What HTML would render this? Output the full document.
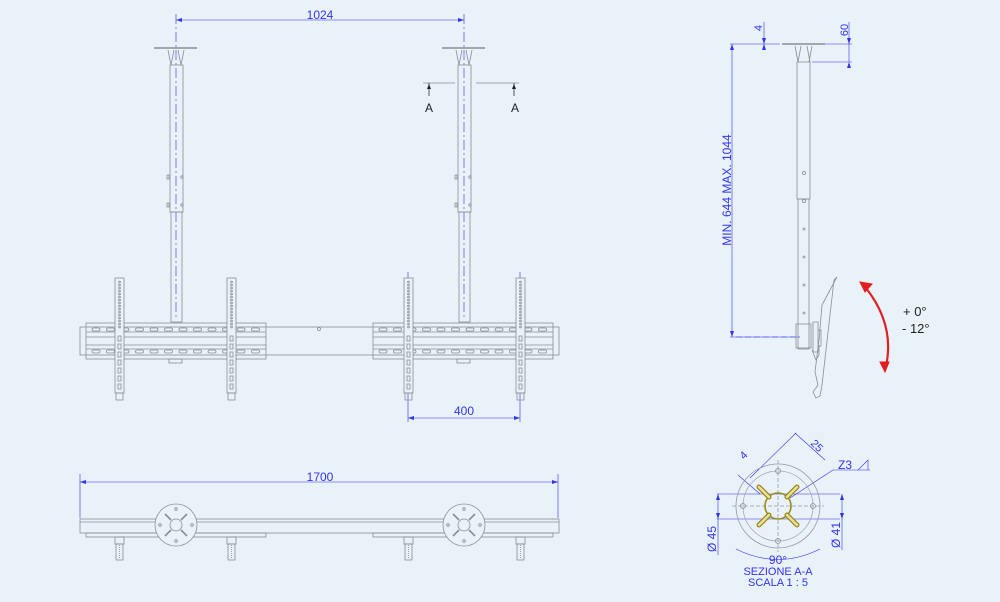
<!DOCTYPE html>
<html><head><meta charset="utf-8"><style>
html,body{margin:0;padding:0;background:#e9f1f9;}
svg{display:block;}
text{font-family:"Liberation Sans",sans-serif;}
</style></head><body>
<svg id="s" width="1000" height="602" viewBox="0 0 1000 602" xmlns="http://www.w3.org/2000/svg">
<rect width="1000" height="602" fill="#e9f1f9"/>
<g id="g" fill="none" stroke="#8a8e94" stroke-width="0.8">
<!-- 1024 dim -->
<g stroke="#3333ee" stroke-width="0.6">
<line x1="176" y1="14" x2="176" y2="320" stroke-dasharray="10,3,2,3"/>
<line x1="464" y1="14" x2="464" y2="320" stroke-dasharray="10,3,2,3"/>
<line x1="176" y1="20" x2="464" y2="20"/>
<line x1="791" y1="44" x2="791" y2="200" stroke-dasharray="10,3,2,3" stroke-width="0"/>
</g>
<path d="M176 20 l6 -2 v4z M464 20 l-6 -2 v4z" fill="#3333ee" stroke="none"/>
<text x="320" y="19" font-size="12" fill="#3333ee" stroke="none" text-anchor="middle">1024</text>

<!-- section A-A marker -->
<line x1="423" y1="83" x2="455" y2="83"/><line x1="476" y1="83" x2="519" y2="83"/>
<line x1="429" y1="83" x2="429" y2="96" stroke="#333"/><line x1="514" y1="83" x2="514" y2="96" stroke="#333"/>
<path d="M429 84 l-2 5 h4z M514 84 l-2 5 h4z" fill="#222" stroke="none"/>
<text x="429" y="112" font-size="12" fill="#222" stroke="none" text-anchor="middle">A</text>
<text x="515" y="112" font-size="12" fill="#222" stroke="none" text-anchor="middle">A</text>

<!-- side view dims -->
<g stroke="#3333ee" stroke-width="0.6">
<line x1="730" y1="44" x2="780" y2="44"/><line x1="764" y1="22" x2="764" y2="50"/>
<line x1="732" y1="44" x2="732" y2="337"/><line x1="730" y1="337" x2="800" y2="337"/>
<line x1="825" y1="44" x2="852" y2="44"/><line x1="812" y1="62" x2="852" y2="62"/>
<line x1="849" y1="22" x2="849" y2="62"/>
<line x1="736" y1="337" x2="800" y2="337" stroke-dasharray="6,3"/>
</g>
<path d="M732 44 l-2 6 h4z M732 337 l-2 -6 h4z M764 44 l-2 -6 h4z M764 44 l-2 6 h4z M849 44 l-2 -6 h4z M849 62 l-2 6 h4z" fill="#3333ee" stroke="none"/>
<text x="0" y="0" font-size="12" fill="#3333ee" stroke="none" text-anchor="middle" transform="translate(731,190) rotate(-90)">MIN. 644 MAX. 1044</text>
<text x="0" y="0" font-size="11" fill="#3333ee" stroke="none" text-anchor="middle" transform="translate(762,28) rotate(-90)">4</text>
<text x="0" y="0" font-size="11" fill="#3333ee" stroke="none" text-anchor="middle" transform="translate(848,30) rotate(-90)">60</text>

<!-- side view pole -->
<line x1="782" y1="44" x2="825" y2="44" stroke-width="1.4"/>
<path d="M795 46 l3 16 M801 46 l-3 16 M807 46 l3 16 M812 46 l-3 16"/>
<rect x="797" y="62" width="13" height="137"/>
<rect x="798" y="199" width="11" height="150"/>
<circle cx="804" cy="173" r="1.6"/><circle cx="804" cy="201" r="1.6"/>
<circle cx="804" cy="229" r="1"/><circle cx="804" cy="257" r="1"/><circle cx="804" cy="285" r="1"/><circle cx="804" cy="313" r="1"/>
<rect x="796" y="324" width="15" height="24"/>
<path d="M813 322 h5 v30 h-5z M818 330 h3 v16 h-3z"/>
<path d="M837 277 L822 305 L819 340 L815 372 L818 385 L813 392 L816 398 L820 396 L822 385 L834 280z"/>
<path d="M812 350 l4 10 l3 -5 v-10"/>
<!-- red arrow -->
<path d="M866 288 Q895 325 886 366" stroke="#e02020" stroke-width="2.2"/>
<path d="M860 282 l12 2 l-7 8z M885 372 l-5 -10 l9 0z" fill="#e02020" stroke="#e02020" stroke-width="1"/>
<text x="903" y="316" font-size="13" fill="#222" stroke="none">+ 0°</text>
<text x="902" y="333" font-size="13" fill="#222" stroke="none">- 12°</text>

<!-- 400 dim -->
<g stroke="#3333ee" stroke-width="0.6">
<line x1="408" y1="272" x2="408" y2="422"/><line x1="520" y1="272" x2="520" y2="422"/>
<line x1="408" y1="418" x2="520" y2="418"/>
<line x1="80" y1="474" x2="80" y2="518"/><line x1="558" y1="474" x2="558" y2="518"/>
<line x1="80" y1="482" x2="558" y2="482"/>
</g>
<path d="M408 418 l6 -2 v4z M520 418 l-6 -2 v4z M80 482 l6 -2 v4z M558 482 l-6 -2 v4z" fill="#3333ee" stroke="none"/>
<text x="464" y="415" font-size="12" fill="#3333ee" stroke="none" text-anchor="middle">400</text>
<text x="320" y="481" font-size="12" fill="#3333ee" stroke="none" text-anchor="middle">1700</text>

<!-- section A-A -->
<g stroke="#3333ee" stroke-width="0.6">
<line x1="717" y1="494" x2="840" y2="494"/><line x1="717" y1="519" x2="840" y2="519"/>
<line x1="718" y1="494" x2="718" y2="555"/><line x1="842" y1="494" x2="842" y2="550"/>
<line x1="738" y1="475" x2="760" y2="494"/><line x1="795" y1="433" x2="825" y2="460"/>
<line x1="796" y1="433" x2="750" y2="478"/>
<line x1="833" y1="470" x2="790" y2="498"/><line x1="833" y1="470" x2="870" y2="470"/>
<path d="M736 549 Q778 570 820 549"/>
</g>
<path d="M718 494 l-2 6 h4z M718 519 l-2 -6 h4z M842 494 l-2 6 h4z M842 519 l-2 -6 h4z" fill="#3333ee" stroke="none"/>
<circle cx="778" cy="506" r="42" stroke="#999"/>
<circle cx="778" cy="506" r="35" stroke="#aaa"/>
<line x1="778" y1="460" x2="778" y2="552" stroke="#99a" stroke-dasharray="4,2"/>
<line x1="732" y1="506" x2="824" y2="506" stroke="#99a" stroke-dasharray="4,2"/>
<circle cx="778" cy="471" r="2.5"/><circle cx="778" cy="541" r="2.5"/><circle cx="743" cy="506" r="2.5"/><circle cx="813" cy="506" r="2.5"/>
<g stroke="#9a8a1a" stroke-width="1.6">
<circle cx="778" cy="506" r="13"/>
<path d="M769 497 l-10 -10 M787 497 l10 -10 M769 515 l-10 10 M787 515 l10 10" stroke-width="5" stroke-linecap="round"/>
</g>
<g stroke="#e9e0a0" stroke-width="2.4"><path d="M769 497 l-10 -10 M787 497 l10 -10 M769 515 l-10 10 M787 515 l10 10" stroke-linecap="round"/></g>
<text x="0" y="0" font-size="12" fill="#3333ee" stroke="none" transform="translate(716,552) rotate(-90)">Ø 45</text>
<text x="0" y="0" font-size="12" fill="#3333ee" stroke="none" transform="translate(840,548) rotate(-90)">Ø 41</text>
<text x="0" y="0" font-size="11" fill="#3333ee" stroke="none" transform="translate(744,460) rotate(-45)">4</text>
<text x="0" y="0" font-size="11" fill="#3333ee" stroke="none" transform="translate(810,444) rotate(45)">25</text>
<text x="838" y="469" font-size="12" fill="#3333ee" stroke="none">Z3</text>
<path d="M858 470 l10 -10 v10" stroke="#3333ee" stroke-width="0.6"/>
<text x="778" y="564" font-size="12" fill="#3333ee" stroke="none" text-anchor="middle">90°</text>
<text x="778" y="575" font-size="11" fill="#3333ee" stroke="none" text-anchor="middle">SEZIONE A-A</text>
<text x="778" y="586" font-size="11" fill="#3333ee" stroke="none" text-anchor="middle">SCALA 1 : 5</text>
</g>
</svg>
<script>
(function(){
var g=document.getElementById('g'),NS='http://www.w3.org/2000/svg';
function el(t,a){var e=document.createElementNS(NS,t);for(var k in a)e.setAttribute(k,a[k]);g.appendChild(e);return e;}
// poles front view
[176,464].forEach(function(c){
 el('line',{x1:c-22,y1:48,x2:c+21,y2:48,'stroke-width':1.4});
 el('path',{d:'M'+(c-8)+' 50 l3 15 M'+(c-2)+' 50 l-3 15 M'+(c+2)+' 50 l3 15 M'+(c+8)+' 50 l-3 15'});
 el('rect',{x:c-6,y:65,width:13,height:147});
 el('rect',{x:c-5,y:212,width:11,height:110});
 el('circle',{cx:c+6,cy:177,r:1.2});el('circle',{cx:c+6,cy:205,r:1.2});
 el('rect',{x:c-9,y:175,width:2,height:4});el('rect',{x:c-9,y:203,width:2,height:4});
 el('rect',{x:c-7,y:359,width:13,height:4});
});
// rails
el('rect',{x:80,y:327,width:479,height:28});
[86,373].forEach(function(x){
 el('rect',{x:x,y:323,width:180,height:36});
 el('line',{x1:x,y1:332,x2:x+180,y2:332});el('line',{x1:x,y1:337,x2:x+180,y2:337});
 el('line',{x1:x,y1:345,x2:x+180,y2:345});el('line',{x1:x,y1:349,x2:x+180,y2:349});
 for(var i=0;i<12;i++){var hx=x+6+i*14.5;el('rect',{x:hx,y:328,width:8,height:3,rx:1.5});el('rect',{x:hx,y:350,width:8,height:3,rx:1.5});}
});
el('circle',{cx:319,cy:329,r:1.5});
// straps
[115,227,404,516].forEach(function(x){
 el('rect',{x:x,y:278,width:9,height:115,fill:'#e9f1f9'});
 for(var y=282;y<330;y+=3)el('circle',{cx:x+4.5,cy:y,r:0.9});
 for(var y=336;y<392;y+=8)el('rect',{x:x+3,y:y,width:3,height:5});
 el('rect',{x:x+1,y:393,width:7,height:7});
});
// bottom view
el('rect',{x:80,y:519,width:479,height:14});
el('line',{x1:80,y1:522,x2:559,y2:522});
el('rect',{x:86,y:533,width:180,height:4});el('rect',{x:373,y:533,width:180,height:4});
[176,464].forEach(function(c){
 el('circle',{cx:c,cy:525,r:21,fill:'#e9f1f9'});
 el('circle',{cx:c,cy:525,r:6});
 el('path',{d:'M'+(c-5)+' 520 l-6 -6 M'+(c+5)+' 520 l6 -6 M'+(c-5)+' 530 l-6 6 M'+(c+5)+' 530 l6 6','stroke-width':1.6});
 el('circle',{cx:c,cy:509,r:1.3});el('circle',{cx:c,cy:541,r:1.3});el('circle',{cx:c-16,cy:525,r:1.3});el('circle',{cx:c+16,cy:525,r:1.3});
});
[115,227,404,516].forEach(function(x){
 el('rect',{x:x,y:537,width:9,height:7});el('rect',{x:x+1,y:544,width:7,height:16});
 el('line',{x1:x+4.5,y1:545,x2:x+4.5,y2:559,'stroke-dasharray':'1,1'});
});
})();
</script>
</body></html>
